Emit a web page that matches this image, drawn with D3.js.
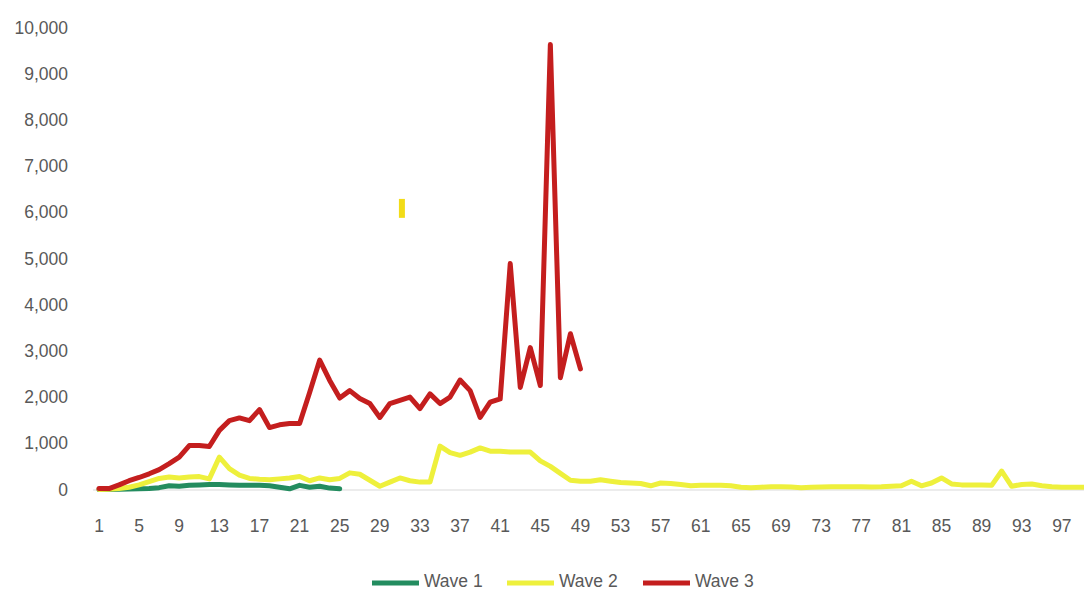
<!DOCTYPE html>
<html>
<head>
<meta charset="utf-8">
<script src="https://cdn.jsdelivr.net/npm/d3@7/dist/d3.min.js"></script>
<style>
  html, body { margin: 0; padding: 0; background: #ffffff; }
  svg { display: block; }
  text { font-family: "Liberation Sans", Arial, sans-serif; fill: #595959; }
</style>
</head>
<body>
<svg id="chart" width="1084" height="592"></svg>
<script>
// ---- data ----
const days = d3.range(1, 101);
const xTickLabels = [1, 5, 9, 13, 17, 21, 25, 29, 33, 37, 41, 45, 49, 53, 57, 61, 65, 69, 73, 77, 81, 85, 89, 93, 97];
const yTickValues = [0, 1000, 2000, 3000, 4000, 5000, 6000, 7000, 8000, 9000, 10000];
const seriesNames = ["Wave 1", "Wave 2", "Wave 3"];
const seriesColors = ["#238c5f", "#eef03c", "#c41e1e"];

const wave1 = [0, 0, 5, 10, 15, 20, 40, 80, 70, 90, 100, 110, 110, 100, 90, 90, 90, 80, 50, 15, 90, 50, 70, 30, 15];
const wave2 = [0, 5, 20, 50, 100, 170, 240, 270, 250, 270,
               280, 230, 700, 450, 310, 240, 220, 210, 230, 250,
               280, 190, 250, 210, 240, 360, 330, 200, 70, 160,
               250, 190, 160, 160, 940, 800, 740, 810, 900, 830,
               830, 810, 810, 810, 620, 500, 350, 200, 180, 180,
               210, 180, 150, 140, 130, 80, 140, 130, 110, 80,
               90, 90, 90, 80, 50, 40, 50, 60, 60, 55,
               40, 50, 55, 60, 60, 60, 60, 55, 60, 70,
               80, 180, 80, 140, 250, 120, 100, 100, 100, 90,
               400, 70, 110, 120, 80, 60, 50, 50, 50, 50];
const wave3 = [20, 20, 100, 190, 260, 340, 430, 560, 700, 950,
               950, 930, 1280, 1490, 1550, 1490, 1730, 1340, 1400, 1430,
               1430, 2100, 2800, 2360, 1980, 2140, 1970, 1860, 1560, 1860,
               1930, 2000, 1750, 2070, 1860, 2000, 2370, 2140, 1560, 1890,
               1960, 4890, 2210, 3070, 2250, 9630, 2420, 3370, 2610];
// stray yellow mark in the source picture (day, from value, to value)
const strayMark = [31.2, 5880, 6290];

const seriesValues = [wave1, wave2, wave3];

// ---- layout ----
const svg = d3.select("#chart");
const x = d3.scaleLinear().domain([1, 100]).range([99, 99 + 99 * 10.03]);
const y = d3.scaleLinear().domain([0, 10000]).range([489.5, 27.5]);

// axis line
svg.append("line")
  .attr("x1", 93).attr("x2", 1084)
  .attr("y1", y(0) + 0.5).attr("y2", y(0) + 0.5)
  .attr("stroke", "#d9d9d9").attr("stroke-width", 1.2);

// y tick labels
svg.append("g").selectAll("text")
  .data(yTickValues).join("text")
  .attr("x", 68)
  .attr("y", d => y(d))
  .attr("dy", "0.35em")
  .attr("text-anchor", "end")
  .style("font-size", "17.5px")
  .text(d => d3.format(",")(d));

// x tick labels
svg.append("g").selectAll("text")
  .data(xTickLabels).join("text")
  .attr("x", d => x(d))
  .attr("y", 526)
  .attr("dy", "0.35em")
  .attr("text-anchor", "middle")
  .style("font-size", "17.5px")
  .text(d => d);

// lines
const line = d3.line()
  .x((d, i) => x(days[i]))
  .y(d => y(d));

seriesValues.forEach((vals, k) => {
  svg.append("path")
    .datum(vals)
    .attr("d", line)
    .attr("fill", "none")
    .attr("stroke", seriesColors[k])
    .attr("stroke-width", 5)
    .attr("stroke-linejoin", "round")
    .attr("stroke-linecap", "round");
});

// stray mark
svg.append("line")
  .attr("x1", x(strayMark[0])).attr("x2", x(strayMark[0]))
  .attr("y1", y(strayMark[1])).attr("y2", y(strayMark[2]))
  .attr("stroke", "#f2dc18").attr("stroke-width", 6);

// legend
const legendX = [372, 507, 643];
const lg = svg.append("g");
seriesNames.forEach((name, k) => {
  lg.append("line")
    .attr("x1", legendX[k]).attr("x2", legendX[k] + 47)
    .attr("y1", 583).attr("y2", 583)
    .attr("stroke", seriesColors[k]).attr("stroke-width", 5);
  lg.append("text")
    .attr("x", legendX[k] + 52)
    .attr("y", 581)
    .attr("dy", "0.35em")
    .style("font-size", "17.5px")
    .text(name);
});
</script>
</body>
</html>
